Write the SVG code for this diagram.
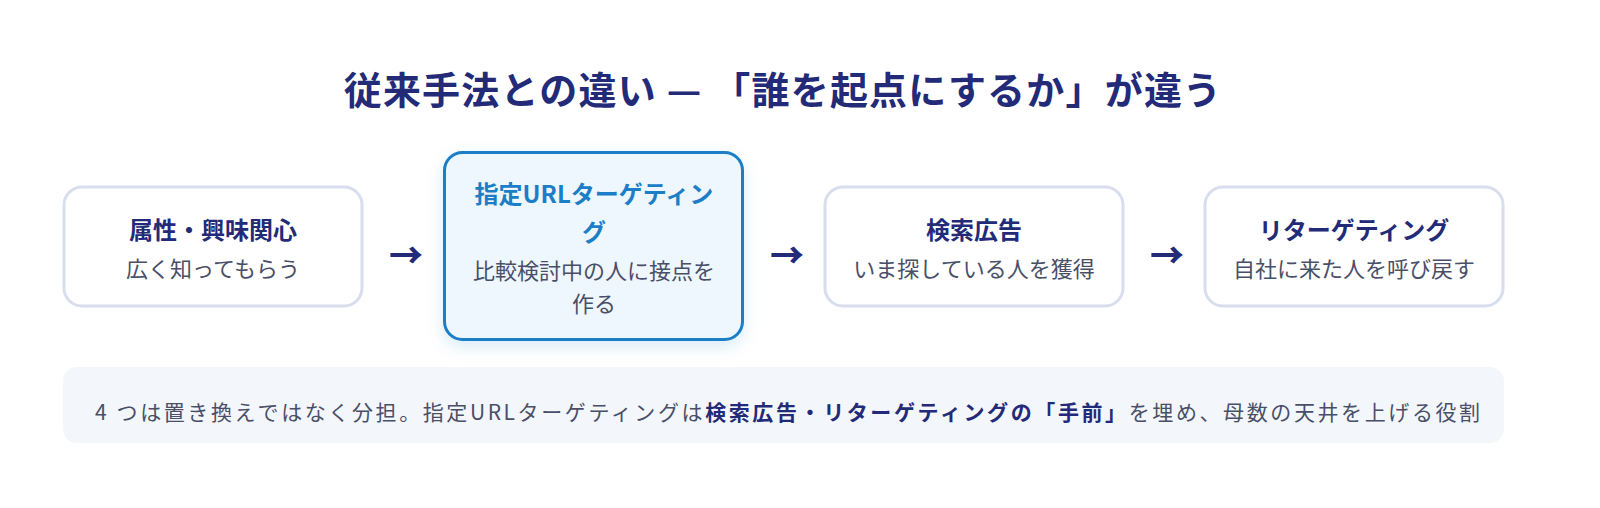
<svg xmlns="http://www.w3.org/2000/svg" width="1600" height="508" viewBox="0 0 1600 508">
<defs>
<filter id="sh" x="-20%" y="-20%" width="140%" height="150%">
<feDropShadow dx="0" dy="6" stdDeviation="8" flood-color="#1a7fc9" flood-opacity="0.15"/>
</filter>
<style>
text{font-family:"Noto Sans CJK JP","Noto Sans",sans-serif;}
.box{fill:#ffffff;stroke:#d9deef;stroke-width:3;}
.hl{fill:#eef6fe;stroke:#1b7ec6;stroke-width:3;}
.t{font-size:24px;font-weight:700;fill:#232a78;text-anchor:middle;}
.th{font-size:24px;font-weight:700;fill:#1b7ec6;text-anchor:middle;}
.s{font-size:22px;fill:#4a4f68;text-anchor:middle;}
.arr{font-size:34px;font-weight:900;fill:#232a78;text-anchor:middle;}
.note{font-size:21px;fill:#4a4f68;letter-spacing:2.6px;}
.nb{font-weight:700;fill:#232a78;}
</style>
</defs>
<rect width="1600" height="508" fill="#ffffff"/>
<text x="783" y="104" text-anchor="middle" font-size="38" font-weight="700" letter-spacing="1.2" fill="#232a78">従来手法との違い — 「誰を起点にするか」が違う</text>
<g id="node1">
<rect class="box" x="64" y="187" width="298" height="119" rx="18"/>
<text class="t" x="213" y="239">属性・興味関心</text>
<text class="s" x="213" y="277">広く知ってもらう</text>
</g>
<g id="node2">
<rect class="hl" x="444.5" y="152.5" width="298" height="187" rx="18" filter="url(#sh)"/>
<text class="th" x="594" y="203">指定URLターゲティン</text>
<text class="th" x="594" y="241">グ</text>
<text class="s" x="594" y="279">比較検討中の人に接点を</text>
<text class="s" x="594" y="312">作る</text>
</g>
<g id="node3">
<rect class="box" x="825" y="187" width="298" height="119" rx="18"/>
<text class="t" x="974" y="239">検索広告</text>
<text class="s" x="974" y="277">いま探している人を獲得</text>
</g>
<g id="node4">
<rect class="box" x="1205" y="187" width="298" height="119" rx="18"/>
<text class="t" x="1354" y="239">リターゲティング</text>
<text class="s" x="1354" y="277">自社に来た人を呼び戻す</text>
</g>
<g id="connectors">
<text class="arr" x="406" y="268">→</text>
<text class="arr" x="787" y="268">→</text>
<text class="arr" x="1167" y="268">→</text>
</g>
<g id="note">
<rect x="63" y="367" width="1441" height="76" rx="14" fill="#f3f6fb"/>
<text class="note" x="95" y="420">4 つは置き換えではなく分担。指定URLターゲティングは<tspan class="nb">検索広告・リターゲティングの「手前」</tspan>を埋め、母数の天井を上げる役割</text>
</g>
</svg>
